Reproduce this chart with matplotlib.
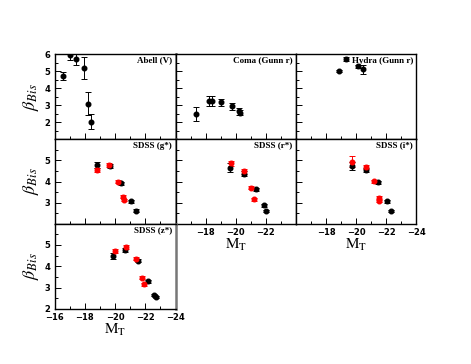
import matplotlib
matplotlib.use("Agg")
import matplotlib.pyplot as plt
from matplotlib.ticker import MultipleLocator, FixedLocator
import numpy as np

plt.rcParams['mathtext.fontset'] = 'stix'

# ---- data ----
abell_x = [-16.59, -17.03, -17.43, -17.92, -18.23, -18.41]
abell_y = [4.74, 5.95, 5.73, 5.21, 3.10, 2.04]
abell_e = [0.25, 0.28, 0.33, 0.63, 0.67, 0.45]

coma_x = [-17.37, -18.25, -18.41, -19.01, -19.77, -20.19, -20.30]
coma_y = [2.50, 3.25, 3.25, 3.19, 2.96, 2.66, 2.56]
coma_e = [0.40, 0.30, 0.30, 0.20, 0.20, 0.20, 0.15]

hydra_x = [-19.30, -18.87, -20.13, -20.42]
hydra_y = [5.75, 5.04, 5.30, 5.12]
hydra_e = [0.12, 0.05, 0.10, 0.28]

g_bx = [-18.81, -19.65, -20.41, -21.03, -21.37]
g_by = [4.80, 4.74, 3.92, 3.06, 2.62]
g_rx = [-18.81, -19.63, -20.23, -20.55, -20.59]
g_ry = [4.56, 4.78, 3.99, 3.28, 3.12]

r_bx = [-19.63, -20.57, -21.32, -21.85, -22.01]
r_by = [4.66, 4.38, 3.62, 2.87, 2.59]
r_rx = [-19.68, -20.52, -21.01, -21.23]
r_ry = [4.86, 4.48, 3.70, 3.15]

i_bx = [-19.69, -20.62, -21.42, -22.05, -22.31]
i_by = [4.74, 4.56, 3.97, 3.06, 2.59]
i_rx = [-19.75, -20.67, -21.20, -21.49, -21.53]
i_ry = [4.95, 4.69, 4.01, 3.23, 3.08]

z_bx = [-19.88, -20.65, -21.50, -22.21, -22.61, -22.70]
z_by = [4.49, 4.75, 4.27, 3.29, 2.66, 2.56]
z_rx = [-19.99, -20.70, -21.39, -21.81, -21.92]
z_ry = [4.72, 4.92, 4.35, 3.47, 3.16]

b_err = [0.15, 0.10, 0.07, 0.06, 0.06, 0.06]
r_err = [0.10, 0.10, 0.07, 0.08, 0.06]
i_red_err = [0.25, 0.10, 0.07, 0.08, 0.06]
r_black_err = [0.2, 0.10, 0.07, 0.06, 0.06]

x_ticks = [-16, -18, -20, -22, -24]

W, H = 471, 364
fig = plt.figure(figsize=(W / 100, H / 100), dpi=100)

xe = [54.5, 175.5, 296, 416.5]
ye = [54.5, 139.4, 223.6, 309]

TF = 6

def make_ax(col, row):
    l = xe[col] / W
    w = (xe[col + 1] - xe[col]) / W
    b = 1 - ye[row + 1] / H
    h = (ye[row + 1] - ye[row]) / H
    ax = fig.add_axes([l, b, w, h])
    ax.set_xlim(-16, -24)
    ax.xaxis.set_major_locator(FixedLocator(x_ticks))
    ax.xaxis.set_minor_locator(MultipleLocator(1))
    ax.yaxis.set_minor_locator(MultipleLocator(0.5))
    ax.tick_params(which='both', direction='in', top=False, right=False,
                   labelsize=TF, pad=3)
    ax.tick_params(which='major', length=4, width=0.7)
    ax.tick_params(which='minor', length=2, width=0.7)
    for s in ax.spines.values():
        s.set_linewidth(1.0)
    return ax

def title(ax, t):
    ax.text(0.97, 0.975, t, transform=ax.transAxes, ha='right', va='top',
            fontsize=6.5, fontweight='bold', family='Liberation Serif')

def eb(ax, x, y, e, color):
    ax.errorbar(x, y, yerr=e, fmt='o', color=color, ms=3.3, capsize=2.2,
                elinewidth=0.7, capthick=0.7, clip_on=True)

def fmt_y(ax, lo, labeled):
    ticks = list(range(lo, 7))
    ax.set_ylim(lo, 6)
    ax.yaxis.set_major_locator(FixedLocator(ticks))
    ax.set_yticklabels([('%d' % t) if t in labeled else '' for t in ticks],
                       fontweight='bold', fontsize=TF)

def fmt_x(ax, labeled):
    ax.set_xticklabels([('\u2212%d' % -t) if t in labeled else '' for t in x_ticks],
                       fontweight='bold', fontsize=TF)

def gray_right(ax):
    ax.spines['right'].set_color('#777777')
    ax.spines['right'].set_linewidth(1.8)

def mt(ax):
    ax.set_xlabel(r'$\mathrm{M}_\mathrm{T}$', fontsize=11, labelpad=0)

# top row
ax = make_ax(0, 0)
eb(ax, abell_x, abell_y, abell_e, 'black'); title(ax, 'Abell (V)')
fmt_y(ax, 1, [2, 3, 4, 5, 6]); fmt_x(ax, []); gray_right(ax)

ax = make_ax(1, 0)
eb(ax, coma_x, coma_y, coma_e, 'black'); title(ax, 'Coma (Gunn r)')
fmt_y(ax, 1, []); fmt_x(ax, [])

ax = make_ax(2, 0)
eb(ax, hydra_x, hydra_y, hydra_e, 'black'); title(ax, 'Hydra (Gunn r)')
fmt_y(ax, 1, []); fmt_x(ax, [])

# middle row
ax = make_ax(0, 1)
eb(ax, g_bx, g_by, b_err[:5], 'black'); eb(ax, g_rx, g_ry, r_err, 'red')
title(ax, 'SDSS (g*)'); fmt_y(ax, 2, [3, 4, 5]); fmt_x(ax, []); gray_right(ax)

ax = make_ax(1, 1)
eb(ax, r_bx, r_by, r_black_err, 'black'); eb(ax, r_rx, r_ry, r_err[:4], 'red')
title(ax, 'SDSS (r*)'); fmt_y(ax, 2, []); fmt_x(ax, [-18, -20, -22]); mt(ax)

ax = make_ax(2, 1)
eb(ax, i_bx, i_by, r_black_err, 'black'); eb(ax, i_rx, i_ry, i_red_err, 'red')
title(ax, 'SDSS (i*)'); fmt_y(ax, 2, []); fmt_x(ax, [-18, -20, -22, -24]); mt(ax)

# bottom row
ax = make_ax(0, 2)
eb(ax, z_bx, z_by, b_err, 'black'); eb(ax, z_rx, z_ry, r_err, 'red')
title(ax, 'SDSS (z*)'); fmt_y(ax, 2, [2, 3, 4, 5]); fmt_x(ax, x_ticks); mt(ax)
gray_right(ax)

# y labels
for yc in [97, 181, 266]:
    fig.text(31 / W, 1 - yc / H, r'$\beta_{Bis}$', rotation=90, ha='center',
             va='center', fontsize=13)

fig.savefig('out.png', dpi=100)
